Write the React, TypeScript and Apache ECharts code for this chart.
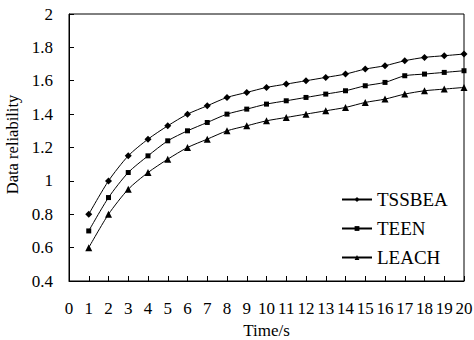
import React, { useEffect, useRef } from "react";
import * as echarts from "echarts";

const times = [1, 2, 3, 4, 5, 6, 7, 8, 9, 10, 11, 12, 13, 14, 15, 16, 17, 18, 19, 20];
const tssbea = [0.8, 1.0, 1.15, 1.25, 1.33, 1.4, 1.45, 1.5, 1.53, 1.56, 1.58, 1.6, 1.62, 1.64, 1.67, 1.69, 1.72, 1.74, 1.75, 1.76];
const teen = [0.7, 0.9, 1.05, 1.15, 1.24, 1.3, 1.35, 1.4, 1.43, 1.46, 1.48, 1.5, 1.52, 1.54, 1.57, 1.59, 1.63, 1.64, 1.65, 1.66];
const leach = [0.6, 0.8, 0.95, 1.05, 1.13, 1.2, 1.25, 1.3, 1.33, 1.36, 1.38, 1.4, 1.42, 1.44, 1.47, 1.49, 1.52, 1.54, 1.55, 1.56];

const FONT = "Liberation Serif";

export default function App() {
  const ref = useRef<HTMLDivElement>(null);
  useEffect(() => {
    if (!ref.current) return;
    const chart = echarts.init(ref.current, undefined, { renderer: "svg" });
    const mk = (name: string, data: number[], symbol: string, size: number) => ({
      name,
      type: "line",
      data: times.map((t, i) => [t, data[i]]),
      symbol,
      symbolSize: size,
      smooth: 0.25,
      lineStyle: { color: "#000", width: 1 },
      itemStyle: { color: "#000" },
    });
    chart.setOption({
      animation: false,
      backgroundColor: "#fff",
      textStyle: { fontFamily: FONT },
      grid: {
        left: 69,
        right: 10,
        top: 14,
        bottom: 59,
        show: true,
        borderColor: "#000",
        borderWidth: 1,
        containLabel: false,
        outerBoundsMode: "none",
      },
      legend: {
        orient: "vertical",
        left: 341,
        top: 190,
        padding: 0,
        itemWidth: 30,
        itemHeight: 6,
        itemGap: 10,
        textStyle: { fontFamily: FONT, fontSize: 19, color: "#000" },
        data: ["TSSBEA", "TEEN", "LEACH"],
      },
      xAxis: {
        type: "value",
        min: 0,
        max: 20,
        interval: 1,
        name: "Time/s",
        nameLocation: "middle",
        nameGap: 41,
        nameTextStyle: { fontFamily: FONT, fontSize: 17, color: "#000" },
        axisLine: { lineStyle: { color: "#000", width: 1 } },
        axisTick: { inside: true, length: 5, lineStyle: { color: "#000" } },
        axisLabel: { fontFamily: FONT, fontSize: 17, color: "#000", margin: 19, hideOverlap: false, showMinLabel: true, showMaxLabel: true },
        splitLine: { show: false },
      },
      yAxis: {
        type: "value",
        min: 0.4,
        max: 2,
        interval: 0.2,
        name: "Data reliability",
        nameLocation: "middle",
        nameGap: 44,
        nameTextStyle: { fontFamily: FONT, fontSize: 16.5, color: "#000", padding: [0, 0, 0, 6] },
        axisLine: { show: true, lineStyle: { color: "#000", width: 1 } },
        axisTick: { show: true, inside: true, length: 5, lineStyle: { color: "#000" } },
        axisLabel: {
          fontFamily: FONT,
          fontSize: 17,
          color: "#000",
          margin: 16,
          formatter: (v: number) => String(Math.round(v * 10) / 10),
        },
        splitLine: { show: false },
      },
      series: [
        mk("TSSBEA", tssbea, "diamond", 7),
        mk("TEEN", teen, "rect", 5),
        mk("LEACH", leach, "triangle", 7),
      ],
    });
    return () => chart.dispose();
  }, []);
  return <div ref={ref} style={{ width: 474, height: 340, position: "absolute", left: 0, top: 0 }} />;
}
